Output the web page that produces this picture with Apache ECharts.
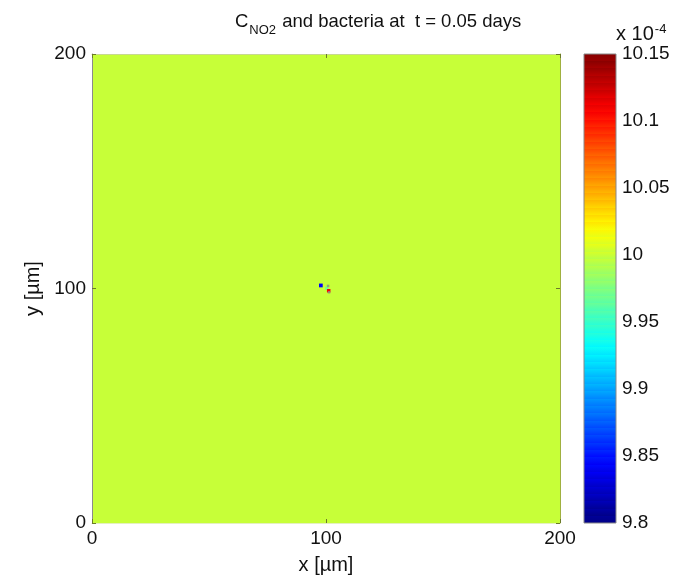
<!DOCTYPE html>
<html>
<head>
<meta charset="utf-8">
<script src="https://cdn.jsdelivr.net/npm/echarts@6/dist/echarts.min.js"></script>
<style>
  html, body { margin: 0; padding: 0; background: #fff; }
  #main { width: 677px; height: 583px; }
</style>
</head>
<body>
<div id="main"></div>
<script>
var myChart = echarts.init(document.getElementById('main'));

// concentration values are in units of 1e-4
var fieldValue = 10.0;
var domain = [0, 200];
var tickLabels = [0, 100, 200];

// small patch of disturbed cells near the centre [x0, y0, size]
var cellX0 = [97.0, 99.6, 100.4];
var cellY0 = [100.5, 99.4, 98.3];
var cellSize = [1.6, 1.4, 1.5];
var cellValue = [9.84, 9.97, 10.11];

// bacteria positions
var bactX = [100.9, 101.3];
var bactY = [101.1, 98.4];

var cbarMin = 9.8;
var cbarMax = 10.15;
var cbarStep = 0.05;

var fontFam = '"Liberation Sans", Arial, sans-serif';

// MATLAB-style jet(64) colormap
function jetAt(t) {
    var r = Math.min(Math.max(Math.min(4 * t - 1.5, -4 * t + 4.5), 0), 1);
    var g = Math.min(Math.max(Math.min(4 * t - 0.5, -4 * t + 3.5), 0), 1);
    var b = Math.min(Math.max(Math.min(4 * t + 0.5, -4 * t + 2.5), 0), 1);
    return 'rgb(' + Math.round(r * 255) + ',' + Math.round(g * 255) + ',' + Math.round(b * 255) + ')';
}
var jet64 = [];
for (var k = 0; k < 64; k++) jet64.push(jetAt((k + 0.5) / 64));

var bandStops = [];
for (var k2 = 0; k2 < 64; k2++) {
    bandStops.push({ offset: 1 - (k2 + 1) / 64, color: jet64[k2] });
    bandStops.push({ offset: 1 - k2 / 64, color: jet64[k2] });
}
bandStops.sort(function (a, b) { return a.offset - b.offset; });

var rects = [[domain[0], domain[1], domain[0], domain[1], fieldValue]];
for (var i = 0; i < cellValue.length; i++) {
    rects.push([cellX0[i], cellX0[i] + cellSize[i], cellY0[i], cellY0[i] + cellSize[i], cellValue[i]]);
}
var bacteria = bactX.map(function (x, i) { return [x, bactY[i]]; });

function labelStyle(extra) {
    return Object.assign({ color: '#111', fontSize: 19, fontFamily: fontFam }, extra);
}
function boxLine(col) { return { show: true, onZero: false, lineStyle: { color: col || '#8a8a8a', width: 1 } }; }
function boxTick() { return { show: true, inside: true, length: 4, lineStyle: { color: '#6b7a2a', width: 1 } }; }

option = {
    backgroundColor: '#fff',
    animation: false,
    title: {
        text: '{n|C}{s|NO2}{n| and bacteria at  t = 0.05 days}',
        left: 230,
        top: 2,
        textStyle: {
            fontWeight: 'normal',
            rich: {
                n: { fontSize: 18.5, fontFamily: fontFam, color: '#111', lineHeight: 24, verticalAlign: 'bottom' },
                s: { fontSize: 13, fontFamily: fontFam, color: '#111', lineHeight: 24, verticalAlign: 'bottom', padding: [0, 1, -6, 1] }
            }
        }
    },
    grid: [
        { left: 92, top: 54, width: 468, height: 469 },
        { left: 584, top: 54, width: 32, height: 469 }
    ],
    xAxis: [
        {
            gridIndex: 0, type: 'value', min: domain[0], max: domain[1], interval: 100, z: 5,
            name: 'x [\u00b5m]', nameLocation: 'middle', nameGap: 32,
            nameTextStyle: { color: '#111', fontSize: 20, fontFamily: fontFam },
            axisLine: boxLine('#e4f0c0'), axisTick: boxTick(),
            axisLabel: labelStyle({ margin: 6, formatter: function (v) { return tickLabels.indexOf(v) >= 0 ? String(v) : ''; } }),
            splitLine: { show: false }
        },
        {
            gridIndex: 0, type: 'value', min: domain[0], max: domain[1], interval: 100, position: 'top', z: 5,
            axisLine: boxLine('#c8d890'), axisTick: boxTick(), axisLabel: { show: false }, splitLine: { show: false }
        },
        {
            gridIndex: 1, type: 'value', min: 0, max: 1,
            axisLine: { show: false }, axisTick: { show: false }, axisLabel: { show: false }, splitLine: { show: false }
        }
    ],
    yAxis: [
        {
            gridIndex: 0, type: 'value', min: domain[0], max: domain[1], interval: 100, z: 5,
            name: 'y [\u00b5m]', nameLocation: 'middle', nameGap: 41, nameRotate: 90,
            nameTextStyle: { color: '#111', fontSize: 20, fontFamily: fontFam },
            axisLine: boxLine(), axisTick: boxTick(),
            axisLabel: labelStyle({ margin: 6 }),
            splitLine: { show: false }
        },
        {
            gridIndex: 0, type: 'value', min: domain[0], max: domain[1], interval: 100, position: 'right', z: 5,
            axisLine: boxLine('#a0b040'), axisTick: boxTick(), axisLabel: { show: false }, splitLine: { show: false }
        },
        {
            gridIndex: 1, type: 'value', min: cbarMin, max: cbarMax, interval: cbarStep,
            position: 'right',
            name: '{a|x 10}{b|-4}', nameLocation: 'end', nameGap: -1,
            nameTextStyle: {
                align: 'left', padding: [0, 0, 0, 32],
                rich: {
                    a: { fontSize: 20, fontFamily: fontFam, color: '#111', verticalAlign: 'bottom', lineHeight: 22 },
                    b: { fontSize: 13, fontFamily: fontFam, color: '#111', verticalAlign: 'top', lineHeight: 22, padding: [0, 0, 6, 1] }
                }
            },
            axisLine: { show: false },
            axisTick: { show: false },
            axisLabel: labelStyle({ margin: 6, formatter: function (v) { return String(parseFloat(v.toFixed(2))); } }),
            splitLine: { show: false }
        }
    ],
    visualMap: {
        show: false,
        type: 'continuous',
        seriesIndex: 0,
        dimension: 4,
        min: cbarMin,
        max: cbarMax,
        inRange: { color: jet64 }
    },
    series: [
        {
            type: 'custom',
            xAxisIndex: 0, yAxisIndex: 0,
            data: rects,
            encode: { x: [0, 1], y: [2, 3] },
            z: 1,
            renderItem: function (params, api) {
                var p0 = api.coord([api.value(0), api.value(3)]);
                var p1 = api.coord([api.value(1), api.value(2)]);
                return {
                    type: 'rect',
                    shape: { x: p0[0], y: p0[1], width: p1[0] - p0[0], height: p1[1] - p0[1] },
                    style: { fill: api.visual('color') }
                };
            }
        },
        {
            type: 'scatter',
            xAxisIndex: 0, yAxisIndex: 0,
            data: bacteria,
            symbol: 'rect',
            symbolSize: 2.5,
            z: 3,
            itemStyle: { color: '#8a8a8a' }
        },
        {
            type: 'custom',
            xAxisIndex: 2, yAxisIndex: 2,
            data: [[0, 1, cbarMin, cbarMax]],
            renderItem: function (params, api) {
                var p0 = api.coord([api.value(0), api.value(3)]);
                var p1 = api.coord([api.value(1), api.value(2)]);
                return {
                    type: 'rect',
                    shape: { x: p0[0], y: p0[1], width: p1[0] - p0[0], height: p1[1] - p0[1] },
                    style: {
                        fill: new echarts.graphic.LinearGradient(0, 0, 0, 1, bandStops),
                        stroke: '#888', lineWidth: 1
                    }
                };
            }
        }
    ]
};
myChart.setOption(option);
</script>
</body>
</html>
